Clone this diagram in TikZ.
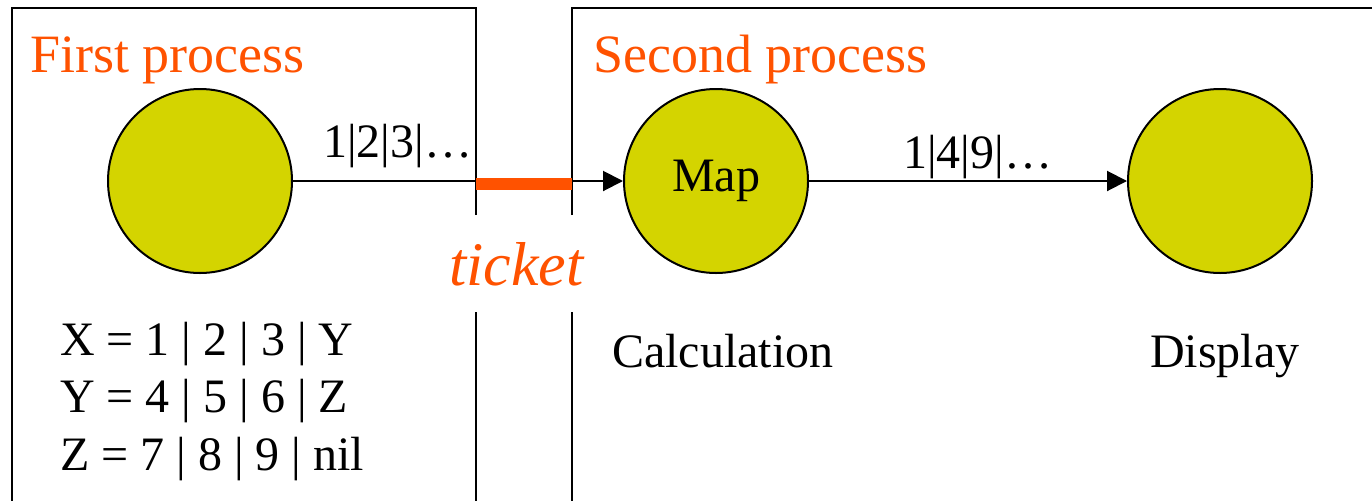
\documentclass[tikz,border=0pt]{standalone}
\usepackage{fontspec}
\setmainfont{Liberation Serif}
\usepackage{tikz}
\usetikzlibrary{arrows.meta,positioning}
\definecolor{tkorange}{HTML}{FF5200}
\definecolor{tkolive}{HTML}{D4D400}
\tikzset{
  proc/.style      = {circle, draw=black, line width=2pt, fill=tkolive,
                      minimum size=184pt, inner sep=0pt, font=\fontsize{48}{57}\selectfont},
  title/.style     = {text=tkorange, font=\fontsize{54}{64}\selectfont,
                      inner sep=0pt, anchor=base west},
  txt/.style       = {font=\fontsize{48}{57}\selectfont, inner sep=0pt, anchor=base west},
  wall/.style      = {line width=2pt, draw=black},
  flow/.style      = {-{Triangle[length=20pt,width=20pt]}, line width=2pt, draw=black},
  ticketbar/.style = {line width=12pt, draw=tkorange},
}

\begin{document}
\begin{tikzpicture}[x=1pt, y=-1pt]
\useasboundingbox (0,0) rectangle (1372,501);

% --- process frames (broken where the ticket passes)
\coordinate (lgapT) at (476,215);
\coordinate (lgapB) at (476,312);
\coordinate (rgapT) at (572,215);
\coordinate (rgapB) at (572,312);
\draw[wall] (lgapT) -- (476,8) -- (12,8) -- (12,501);
\draw[wall] (lgapB) -- (476,501);
\draw[wall] (rgapT) -- (572,8) -- (1372,8);
\draw[wall] (rgapB) -- (572,501);

% --- titles
\node[title] (t1) at (30,72) {First process};
\node[title] (t2) at (593,72) {Second process};

% --- processes
\node[proc] (first) at (200,181) {};
\node[proc] (map) at (716,181) {Map};
\node[proc] (display) at (1220,181) {};

% --- streams
\draw[flow] (first) -- (map);
\draw[flow] (map) -- (display);
\coordinate (tl) at (476,184);
\coordinate (tr) at (572,184);
\draw[ticketbar] (tl) -- (tr);

\node[txt] (s1) at (323,157) {1|2|3|…};
\node[txt] (s2) at (903,168) {1|4|9|…};
\node[title, font=\fontsize{62}{72}\selectfont\itshape] (tick) at (449,285) {ticket};

% --- captions
\node[txt] (xdef) at (60,355) {X = 1 | 2 | 3 | Y};
\node[txt] (ydef) at (60,412) {Y = 4 | 5 | 6 | Z};
\node[txt] (zdef) at (60,470) {Z = 7 | 8 | 9 | nil};
\node[txt] (calc) at (612,367) {Calculation};
\node[txt] (disp) at (1150,367) {Display};

\end{tikzpicture}
\end{document}
